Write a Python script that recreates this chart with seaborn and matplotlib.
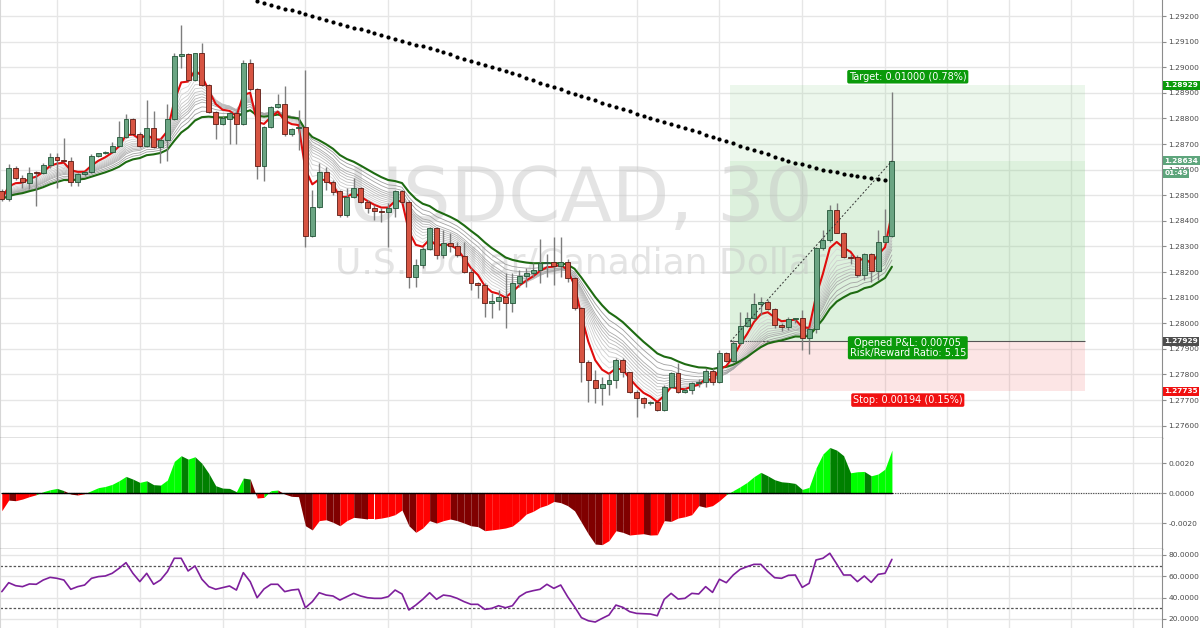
import numpy as np
import pandas as pd
import matplotlib
matplotlib.use("Agg")
import matplotlib.pyplot as plt
import matplotlib.transforms as mtransforms
import seaborn as sns

# USDCAD 30 min candles, oldest first
opens = [1.28517, 1.28485, 1.28608, 1.28566, 1.28549, 1.28591, 1.28585, 1.28617, 1.28650, 1.28637,
         1.28634, 1.28553, 1.28582, 1.28592, 1.28652, 1.28663, 1.28669, 1.28693, 1.28728, 1.28799,
         1.28741, 1.28693, 1.28764, 1.28690, 1.28716, 1.28797, 1.29044, 1.29050, 1.28949, 1.29054,
         1.28930, 1.28826, 1.28777, 1.28799, 1.28823, 1.28777, 1.29015, 1.28914, 1.28615, 1.28767,
         1.28845, 1.28858, 1.28738, 1.28761, 1.28768, 1.28341, 1.28455, 1.28592, 1.28553, 1.28516,
         1.28423, 1.28494, 1.28529, 1.28475, 1.28451, 1.28440, 1.28436, 1.28451, 1.28516, 1.28475,
         1.28182, 1.28227, 1.28288, 1.28370, 1.28266, 1.28315, 1.28301, 1.28262, 1.28201, 1.28156,
         1.28149, 1.28080, 1.28088, 1.28104, 1.28078, 1.28156, 1.28184, 1.28195, 1.28208, 1.28236,
         1.28240, 1.28225, 1.28240, 1.28175, 1.28058, 1.27850, 1.27778, 1.27746, 1.27763, 1.27778,
         1.27856, 1.27811, 1.27733, 1.27707, 1.27690, 1.27692, 1.27661, 1.27752, 1.27804, 1.27733,
         1.27739, 1.27768, 1.27772, 1.27815, 1.27770, 1.27882, 1.27854, 1.27921, 1.27989, 1.28019,
         1.28075, 1.28082, 1.28054, 1.27993, 1.27985, 1.28015, 1.28019, 1.27941, 1.27976, 1.28292,
         1.28325, 1.28444, 1.28353, 1.28260, 1.28257, 1.28188, 1.28270, 1.28205, 1.28318, 1.28340]
highs = [1.28524, 1.28621, 1.28615, 1.28579, 1.28612, 1.28595, 1.28624, 1.28666, 1.28666, 1.28725,
         1.28650, 1.28588, 1.28595, 1.28660, 1.28666, 1.28673, 1.28706, 1.28790, 1.28816, 1.28803,
         1.28745, 1.28871, 1.28829, 1.28725, 1.28855, 1.29057, 1.29164, 1.29057, 1.29057, 1.29096,
         1.28933, 1.28829, 1.28810, 1.28826, 1.28829, 1.29027, 1.29031, 1.28920, 1.28771, 1.28849,
         1.28894, 1.28927, 1.28764, 1.28833, 1.28989, 1.28520, 1.28624, 1.28611, 1.28559, 1.28520,
         1.28527, 1.28566, 1.28533, 1.28481, 1.28462, 1.28449, 1.28468, 1.28520, 1.28520, 1.28481,
         1.28249, 1.28299, 1.28377, 1.28377, 1.28364, 1.28351, 1.28318, 1.28318, 1.28214, 1.28162,
         1.28156, 1.28117, 1.28130, 1.28195, 1.28195, 1.28208, 1.28214, 1.28234, 1.28330, 1.28270,
         1.28335, 1.28335, 1.28250, 1.28182, 1.28065, 1.27856, 1.27817, 1.27791, 1.27804, 1.27863,
         1.27863, 1.27811, 1.27739, 1.27713, 1.27696, 1.27694, 1.27759, 1.27811, 1.27843, 1.27746,
         1.27772, 1.27781, 1.27824, 1.27824, 1.27895, 1.27889, 1.27934, 1.28045, 1.28045, 1.28117,
         1.28104, 1.28091, 1.28058, 1.28000, 1.28026, 1.28022, 1.28051, 1.27987, 1.28299, 1.28364,
         1.28461, 1.28468, 1.28357, 1.28270, 1.28266, 1.28273, 1.28273, 1.28364, 1.28448, 1.28905]
lows = [1.28478, 1.28478, 1.28559, 1.28530, 1.28524, 1.28458, 1.28582, 1.28608, 1.28530, 1.28628,
        1.28537, 1.28537, 1.28576, 1.28588, 1.28650, 1.28660, 1.28663, 1.28689, 1.28725, 1.28738,
        1.28689, 1.28689, 1.28686, 1.28624, 1.28634, 1.28794, 1.28998, 1.28946, 1.28946, 1.28927,
        1.28822, 1.28718, 1.28774, 1.28699, 1.28699, 1.28774, 1.28907, 1.28563, 1.28556, 1.28764,
        1.28839, 1.28732, 1.28732, 1.28676, 1.28299, 1.28335, 1.28449, 1.28520, 1.28501, 1.28416,
        1.28416, 1.28488, 1.28468, 1.28429, 1.28403, 1.28397, 1.28299, 1.28416, 1.28468, 1.28136,
        1.28143, 1.28214, 1.28286, 1.28249, 1.28253, 1.28279, 1.28260, 1.28195, 1.28130, 1.28097,
        1.28025, 1.28019, 1.28052, 1.27981, 1.28045, 1.28143, 1.28143, 1.28182, 1.28156, 1.28180,
        1.28150, 1.28180, 1.28160, 1.28052, 1.27772, 1.27694, 1.27687, 1.27681, 1.27720, 1.27746,
        1.27791, 1.27726, 1.27635, 1.27667, 1.27680, 1.27658, 1.27658, 1.27746, 1.27726, 1.27726,
        1.27723, 1.27752, 1.27752, 1.27760, 1.27765, 1.27850, 1.27850, 1.27915, 1.27986, 1.28013,
        1.28032, 1.28052, 1.27980, 1.27970, 1.27975, 1.28000, 1.27895, 1.27880, 1.27960, 1.28286,
        1.28318, 1.28351, 1.28253, 1.28230, 1.28181, 1.28168, 1.28162, 1.28168, 1.28312, 1.28336]
closes = [1.28485, 1.28608, 1.28566, 1.28552, 1.28588, 1.28585, 1.28618, 1.28650, 1.28637, 1.28633,
          1.28553, 1.28582, 1.28592, 1.28652, 1.28663, 1.28669, 1.28693, 1.28728, 1.28799, 1.28741,
          1.28693, 1.28764, 1.28690, 1.28716, 1.28799, 1.29044, 1.29050, 1.28949, 1.29054, 1.28930,
          1.28826, 1.28777, 1.28800, 1.28823, 1.28777, 1.29015, 1.28914, 1.28615, 1.28767, 1.28845,
          1.28858, 1.28738, 1.28758, 1.28768, 1.28341, 1.28455, 1.28592, 1.28553, 1.28514, 1.28423,
          1.28494, 1.28529, 1.28475, 1.28451, 1.28440, 1.28436, 1.28451, 1.28516, 1.28475, 1.28182,
          1.28227, 1.28288, 1.28370, 1.28266, 1.28315, 1.28301, 1.28266, 1.28201, 1.28156, 1.28149,
          1.28080, 1.28088, 1.28104, 1.28078, 1.28156, 1.28184, 1.28195, 1.28208, 1.28236, 1.28240,
          1.28225, 1.28240, 1.28175, 1.28058, 1.27850, 1.27778, 1.27746, 1.27763, 1.27778, 1.27856,
          1.27811, 1.27733, 1.27707, 1.27690, 1.27692, 1.27661, 1.27752, 1.27804, 1.27733, 1.27739,
          1.27768, 1.27772, 1.27815, 1.27770, 1.27882, 1.27854, 1.27921, 1.27989, 1.28019, 1.28075,
          1.28082, 1.28054, 1.27993, 1.27985, 1.28015, 1.28019, 1.27941, 1.27976, 1.28292, 1.28325,
          1.28444, 1.28353, 1.28260, 1.28256, 1.28188, 1.28270, 1.28205, 1.28318, 1.28340, 1.28634]

# long moving average (black dots), first visible at candle 37
ma_start = 37
ma_values = [1.29259, 1.29251, 1.29243, 1.29236, 1.29229, 1.29222, 1.29215, 1.29208, 1.29200, 1.29192,
             1.29184, 1.29176, 1.29169, 1.29162, 1.29155, 1.29148, 1.29141, 1.29134, 1.29126, 1.29118,
             1.29110, 1.29102, 1.29095, 1.29088, 1.29081, 1.29074, 1.29067, 1.29059, 1.29050, 1.29041,
             1.29032, 1.29024, 1.29016, 1.29008, 1.29000, 1.28993, 1.28985, 1.28977, 1.28968, 1.28958,
             1.28949, 1.28940, 1.28930, 1.28922, 1.28913, 1.28905, 1.28896, 1.28888, 1.28879, 1.28871,
             1.28862, 1.28854, 1.28845, 1.28836, 1.28828, 1.28819, 1.28811, 1.28802, 1.28794, 1.28786,
             1.28778, 1.28771, 1.28763, 1.28754, 1.28745, 1.28736, 1.28727, 1.28719, 1.28710, 1.28702,
             1.28694, 1.28685, 1.28677, 1.28668, 1.28660, 1.28651, 1.28643, 1.28634, 1.28627, 1.28620,
             1.28613, 1.28606, 1.28598, 1.28593, 1.28589, 1.28584, 1.28580, 1.28575, 1.28572, 1.28568,
             1.28564, 1.28559]

macd_hist = [-0.00118, -0.00047, -0.00051, -0.00040, -0.00024, -0.00011, 0.00009, 0.00022, 0.00031, 0.00016,
             -0.00007, -0.00013, -0.00004, 0.00016, 0.00036, 0.00044, 0.00058, 0.00082, 0.00111, 0.00093,
             0.00071, 0.00082, 0.00056, 0.00053, 0.00087, 0.00211, 0.00249, 0.00226, 0.00242, 0.00198,
             0.00131, 0.00049, 0.00033, 0.00031, 0.00009, 0.00100, 0.00093, -0.00033, -0.00029, 0.00016,
             0.00020, -0.00007, -0.00022, -0.00024, -0.00218, -0.00246, -0.00184, -0.00178, -0.00195, -0.00218,
             -0.00184, -0.00162, -0.00167, -0.00173, -0.00173, -0.00167, -0.00158, -0.00144, -0.00113, -0.00218,
             -0.00262, -0.00233, -0.00184, -0.00200, -0.00184, -0.00173, -0.00184, -0.00200, -0.00218, -0.00224,
             -0.00251, -0.00246, -0.00240, -0.00233, -0.00220, -0.00184, -0.00140, -0.00122, -0.00095, -0.00080,
             -0.00056, -0.00064, -0.00084, -0.00118, -0.00195, -0.00273, -0.00340, -0.00344, -0.00317, -0.00251,
             -0.00262, -0.00280, -0.00275, -0.00271, -0.00280, -0.00278, -0.00184, -0.00189, -0.00167, -0.00158,
             -0.00144, -0.00084, -0.00095, -0.00084, -0.00051, -0.00011, 0.00016, 0.00042, 0.00071, 0.00109,
             0.00138, 0.00115, 0.00089, 0.00075, 0.00071, 0.00064, 0.00024, 0.00038, 0.00167, 0.00260,
             0.00304, 0.00286, 0.00249, 0.00135, 0.00142, 0.00144, 0.00115, 0.00127, 0.00160, 0.00286]

rsi = [45.6, 54.0, 51.2, 50.3, 52.8, 52.5, 56.5, 59.0, 58.1, 56.5,
       47.8, 50.3, 51.8, 58.1, 59.7, 60.3, 62.8, 67.5, 72.8, 62.8,
       55.0, 62.8, 52.5, 56.5, 64.4, 76.9, 76.9, 65.0, 69.7, 57.2,
       50.3, 47.8, 49.3, 50.9, 47.1, 63.4, 55.0, 39.9, 48.1, 52.5,
       52.5, 45.6, 47.1, 47.8, 30.5, 36.2, 44.6, 42.4, 41.5, 37.7,
       40.9, 44.0, 41.5, 39.9, 39.3, 39.3, 40.9, 47.1, 43.4, 28.4,
       33.0, 38.4, 44.6, 38.4, 42.4, 41.5, 39.3, 36.2, 33.7, 33.7,
       29.0, 29.9, 32.4, 30.5, 32.4, 40.9, 44.9, 46.5, 47.8, 52.5,
       48.7, 51.8, 40.9, 31.5, 21.2, 18.3, 17.1, 20.5, 23.7, 33.0,
       30.9, 26.8, 25.2, 24.9, 24.6, 23.0, 38.4, 44.0, 38.7, 39.3,
       44.0, 43.4, 50.3, 44.9, 57.2, 54.0, 61.2, 66.5, 69.0, 71.2,
       71.2, 64.4, 58.7, 58.1, 60.9, 61.2, 49.6, 53.4, 75.3, 76.9,
       81.6, 71.5, 61.2, 61.2, 55.0, 60.3, 54.3, 61.8, 62.8, 75.9]
rsi_levels = [70, 30]

# long position tool
entry_idx = 105.6
box_end_idx = 157
entry_price = 1.27929
target_price = 1.28929
stop_price = 1.27735
target_text = "Target: 0.01000 (0.78%)"
pnl_text = "Opened P&L: 0.00705\nRisk/Reward Ratio: 5.15"
stop_text = "Stop: 0.00194 (0.15%)"
countdown = "01:49"

price_ticks = [1.276, 1.277, 1.278, 1.279, 1.280, 1.281, 1.282, 1.283, 1.284,
               1.285, 1.286, 1.287, 1.288, 1.289, 1.290, 1.291, 1.292]
macd_ticks = [-0.002, 0.0, 0.002]
rsi_ticks = [20, 40, 60, 80]
grid_idx = [8, 20, 32, 44, 56, 68, 80, 92, 104, 116, 128, 137, 146, 155, 164]

fast_span = 4
slow_span = 20
ribbon_spans = [5, 6, 7, 8, 9, 10, 11, 12, 13, 15, 17]

sns.set_style("white")
plt.rcParams['font.family'] = ['DejaVu Sans']

UP, UP_EDGE = '#6ba583', '#225437'
DOWN, DOWN_EDGE = '#d75442', '#5b1a13'
GRID = '#e6e6e6'
TICK_TXT = '#4a4a4a'

fig = plt.figure(figsize=(12, 6.28), dpi=100)
ax = fig.add_axes([0, 0.30255, 0.96833, 0.69745])
ax_macd = fig.add_axes([0, 0.12580, 0.96833, 0.17675], sharex=ax)
ax_rsi = fig.add_axes([0, 0, 0.96833, 0.12580], sharex=ax)

idx = np.arange(len(closes))
o = np.array(opens)
h = np.array(highs)
l = np.array(lows)
c = np.array(closes)

for a in (ax, ax_macd, ax_rsi):
    a.set_facecolor('white')
    a.set_xticks(grid_idx)
    a.grid(True, color=GRID, lw=1)
    a.yaxis.tick_right()
    a.tick_params(axis='x', length=0, labelbottom=False)
    a.tick_params(axis='y', direction='out', length=3, width=0.8, color='#8c8c8c',
                  labelsize=5.4, labelcolor=TICK_TXT, pad=1.5)
    a.spines['top'].set_visible(False)
    a.spines['right'].set_color('#8c8c8c')
    a.spines['left'].set_color('#d6d6d6')
    a.spines['bottom'].set_color('#6e6e6e')
    a.spines['bottom'].set_linewidth(1)
    a.set_xlim(-0.26, 168.14)

# ---- price panel ----
ax.set_ylim(1.275516, 1.292625)
ax.set_yticks(price_ticks)
ax.set_yticklabels([f"{t:.5f}" for t in price_ticks])

last_close = c[-1]
# position tool zones
ax.fill_between([entry_idx, box_end_idx], last_close, target_price, color='#8fd18f', alpha=0.17, lw=0, zorder=0.6)
ax.fill_between([entry_idx, box_end_idx], entry_price, last_close, color='#8fd18f', alpha=0.30, lw=0, zorder=0.6)
ax.fill_between([entry_idx, box_end_idx], stop_price, entry_price, color='#f08080', alpha=0.20, lw=0, zorder=0.6)
ax.hlines(entry_price, entry_idx, box_end_idx, color='#555555', lw=0.8, zorder=0.8)

# watermark
ax.text(0.4991, 0.4954, "USDCAD, 30", transform=ax.transAxes, ha='center', va='baseline',
        fontsize=54, color='#c4c4c4', alpha=0.45, zorder=0.7)
ax.text(0.4991, 0.3767, "U.S. Dollar/Canadian Dollar", transform=ax.transAxes, ha='center',
        va='baseline', fontsize=26, color='#c4c4c4', alpha=0.45, zorder=0.7)

# moving average ribbon
close_s = pd.Series(c)
greys = np.linspace(0.85, 0.62, len(ribbon_spans))
for span, g in zip(ribbon_spans, greys):
    sns.lineplot(x=idx, y=close_s.ewm(span=span, adjust=False).mean().values, ax=ax,
                 color=str(g), linewidth=0.6, zorder=2)
sns.lineplot(x=idx, y=close_s.ewm(span=slow_span, adjust=False).mean().values, ax=ax,
             color='#1e6b12', linewidth=1.5, zorder=3)
sns.lineplot(x=idx, y=close_s.ewm(span=fast_span, adjust=False).mean().values, ax=ax,
             color='#e00d0d', linewidth=1.5, zorder=3.2)

# long MA dots
ma_idx = np.arange(ma_start, ma_start + len(ma_values))
sns.scatterplot(x=ma_idx, y=ma_values, ax=ax, s=9, color='black', linewidth=0, zorder=6)

# candles
ax.vlines(idx, l, h, color='#7d7d7d', lw=1, zorder=4)
up = c >= o
body_lo = np.minimum(o, c)
body_h = np.maximum(np.abs(c - o), 0.00003)
ax.bar(idx[up], body_h[up], bottom=body_lo[up], width=0.72, color=UP, edgecolor=UP_EDGE, lw=0.6, zorder=5)
ax.bar(idx[~up], body_h[~up], bottom=body_lo[~up], width=0.72, color=DOWN, edgecolor=DOWN_EDGE, lw=0.6, zorder=5)

# projection line from entry to last close
ax.plot([entry_idx, idx[-1]], [entry_price, last_close], color='#333333', lw=0.7,
        ls=(0, (2, 2)), zorder=5.5)

# position labels
label_idx = (entry_idx + box_end_idx) / 2
box_kw = dict(ha='center', va='center', fontsize=7, color='white', textcoords='offset points', zorder=9)
ax.annotate(target_text, xy=(label_idx, target_price), xytext=(0, 6.2),
            bbox=dict(boxstyle='round,pad=0.18', fc='#0a9a0a', ec='none'), **box_kw)
ax.annotate(pnl_text, xy=(label_idx, entry_price), xytext=(0, -4.6), linespacing=0.95,
            bbox=dict(boxstyle='round,pad=0.18', fc='#0a9a0a', ec='none'), **box_kw)
ax.annotate(stop_text, xy=(label_idx, stop_price), xytext=(0, -6.5),
            bbox=dict(boxstyle='round,pad=0.18', fc='#f01010', ec='none'), **box_kw)

# price tags on the right scale
tag_trans = mtransforms.blended_transform_factory(ax.transAxes, ax.transData)


def price_tag(y, text, color, dy=0):
    ax.annotate(text, xy=(1.0, y), xycoords=tag_trans, xytext=(1.6, dy), textcoords='offset points',
                ha='left', va='center', fontsize=5.3, fontweight='bold', color='white',
                bbox=dict(boxstyle='square,pad=0.2', fc=color, ec='none'),
                annotation_clip=False, zorder=10)


price_tag(target_price, f"{target_price:.5f}", '#0a9a0a')
price_tag(last_close, f"{last_close:.5f}", '#5ea57c')
price_tag(last_close, countdown, '#5ea57c', dy=-9.0)
price_tag(entry_price, f"{entry_price:.5f}", '#4d4d4d')
price_tag(stop_price, f"{stop_price:.5f}", '#f01010')

# ---- histogram panel ----
ax_macd.set_ylim(-0.00373, 0.00367)
ax_macd.set_yticks(macd_ticks)
ax_macd.set_yticklabels([f"{t:.4f}" for t in macd_ticks])
for i in range(1, len(macd_hist)):
    v0, v1 = macd_hist[i - 1], macd_hist[i]
    if v1 >= 0:
        col = '#00ff00' if v1 >= v0 else '#008000'
    else:
        col = '#ff0000' if v1 >= v0 else '#800000'
    ax_macd.fill_between([i - 1, i], [v0, v1], 0, color=col, lw=0, zorder=2)
ax_macd.axhline(0, color='#444444', lw=0.8, ls=(0, (1, 1.2)), zorder=1.5)
ax_macd.plot([idx[0], idx[-1]], [0, 0], color='black', lw=1, zorder=3)

# ---- RSI panel ----
ax_rsi.set_ylim(11.5, 85.6)
ax_rsi.set_yticks(rsi_ticks)
ax_rsi.set_yticklabels([f"{t:.4f}" for t in rsi_ticks])
for lvl in rsi_levels:
    ax_rsi.axhline(lvl, color='#555555', lw=0.9, ls=(0, (2, 1.5)), zorder=1.5)
sns.lineplot(x=idx, y=rsi, ax=ax_rsi, color='#7e1f9c', linewidth=1.2, zorder=3)
ax_rsi.spines['bottom'].set_visible(False)

for a in (ax, ax_macd, ax_rsi):
    a.set_xlabel('')
    a.set_ylabel('')

fig.savefig('out.png', dpi=100)
